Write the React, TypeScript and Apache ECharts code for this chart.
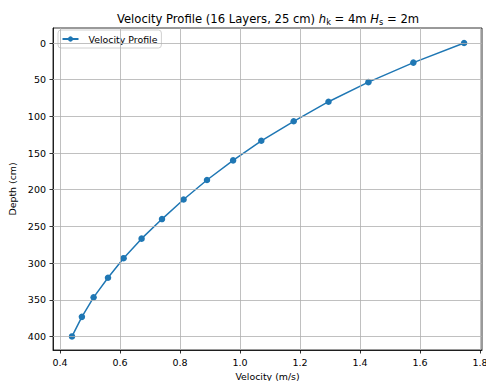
import React, { useEffect, useRef } from "react";
import * as echarts from "echarts";

// Depth of each layer boundary (cm) and measured velocity (m/s)
const depths = [0, 26.7, 53.3, 80, 106.7, 133.3, 160, 186.7, 213.3, 240, 266.7, 293.3, 320, 346.7, 373.3, 400];
const velocities = [1.747, 1.578, 1.428, 1.295, 1.179, 1.071, 0.977, 0.89, 0.812, 0.74, 0.672, 0.612, 0.56, 0.512, 0.473, 0.44];

const xTicks = [0.4, 0.6, 0.8, 1.0, 1.2, 1.4, 1.6, 1.8];
const yTicks = [0, 50, 100, 150, 200, 250, 300, 350, 400];

const FONT = "DejaVu Sans";
const BLUE = "#1f77b4";
const TICK_FONT = 9.5;

export default function App() {
  const ref = useRef<HTMLDivElement>(null);

  useEffect(() => {
    if (!ref.current) return;
    const chart = echarts.init(ref.current, undefined, { renderer: "svg" });
    const gridColor = "#b0b0b0";

    chart.setOption({
      animation: false,
      backgroundColor: "#ffffff",
      textStyle: { fontFamily: FONT },
      title: {
        text: "{t|Velocity Profile (16 Layers, 25 cm) }{i|h}{sub|k}{t| = 4m }{i|H}{sub|s}{t| = 2m}",
        left: 268,
        textAlign: "center",
        top: 12,
        padding: 0,
        textStyle: {
          fontFamily: FONT,
          fontSize: 11.6,
          fontWeight: "normal",
          color: "#000",
          rich: {
            t: { fontFamily: FONT, fontSize: 11.6, color: "#000" },
            i: { fontFamily: FONT, fontSize: 11.6, fontStyle: "italic", color: "#000" },
            sub: { fontFamily: FONT, fontSize: 8.2, color: "#000", padding: [6, 0, 0, 0] },
          },
        },
      },
      legend: {
        left: 58,
        top: 30,
        itemWidth: 16,
        itemHeight: 6.5,
        itemGap: 4,
        padding: [4.5, 4, 4.5, 3.5],
        borderColor: "#d0d0d0",
        borderWidth: 1,
        borderRadius: 3,
        backgroundColor: "rgba(255,255,255,0.8)",
        textStyle: { fontFamily: FONT, fontSize: 9.4, color: "#000", padding: [0, 0, 0, 5] },
        data: ["Velocity Profile"],
      },
      grid: {
        left: 53,
        right: 4,
        top: 28,
        bottom: 31,
        outerBoundsMode: "none",
        containLabel: false,
        show: true,
        borderColor: "#000",
        borderWidth: 0.8,
        backgroundColor: "transparent",
      },
      xAxis: {
        type: "value",
        min: 0.3767,
        max: 1.8067,
        name: "Velocity (m/s)",
        nameLocation: "middle",
        nameGap: 17.5,
        nameTextStyle: { fontFamily: FONT, fontSize: 9.4, color: "#000" },
        axisLine: { show: true, onZero: false, lineStyle: { color: "#000", width: 0.8 } },
        axisTick: { show: true, length: 3.5, customValues: xTicks, lineStyle: { color: "#000", width: 0.8 } },
        axisLabel: {
          customValues: xTicks,
          fontFamily: FONT,
          fontSize: TICK_FONT,
          color: "#000",
          margin: 7,
          formatter: (v: number) => v.toFixed(1),
        },
        splitLine: { show: false },
      },
      yAxis: {
        type: "value",
        inverse: true,
        min: -20.5,
        max: 418.5,
        name: "Depth (cm)",
        nameLocation: "middle",
        nameGap: 28,
        nameRotate: 90,
        nameTextStyle: { fontFamily: FONT, fontSize: 9.4, color: "#000" },
        axisLine: { show: true, onZero: false, lineStyle: { color: "#000", width: 0.8 } },
        axisTick: { show: true, length: 3.5, customValues: yTicks, lineStyle: { color: "#000", width: 0.8 } },
        axisLabel: {
          customValues: yTicks,
          fontFamily: FONT,
          fontSize: TICK_FONT,
          color: "#000",
          margin: 7,
        },
        splitLine: { show: false },
      },
      series: [
        {
          // grid lines at the tick positions, kept beneath the profile
          type: "line",
          data: [],
          z: 1,
          silent: true,
          markLine: {
            silent: true,
            symbol: "none",
            animation: false,
            label: { show: false },
            lineStyle: { color: gridColor, width: 0.8, type: "solid" },
            data: [
              ...xTicks.map((v) => ({ xAxis: v })),
              ...yTicks.map((v) => ({ yAxis: v })),
            ],
          },
        },
        {
          name: "Velocity Profile",
          type: "line",
          z: 3,
          data: depths.map((d, i) => [velocities[i], d]),
          symbol: "circle",
          symbolSize: 6.5,
          itemStyle: { color: BLUE },
          lineStyle: { color: BLUE, width: 1.5 },
        },
      ],
    });

    return () => chart.dispose();
  }, []);

  return (
    <div
      ref={ref}
      style={{ position: "fixed", left: 0, top: 0, width: 486, height: 381 }}
    />
  );
}
